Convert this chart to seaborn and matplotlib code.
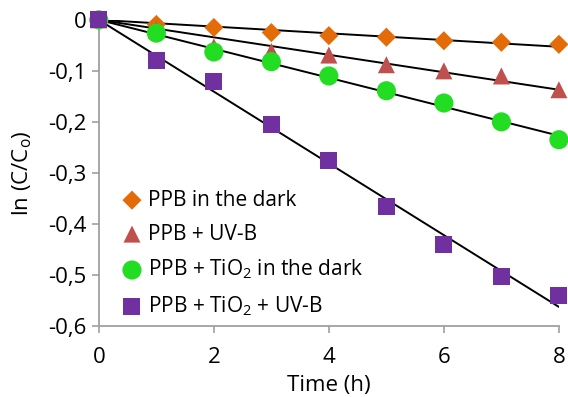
import numpy as np
import pandas as pd
import matplotlib
matplotlib.use("Agg")
import matplotlib.pyplot as plt
import seaborn as sns

hours = [0, 1, 2, 3, 4, 5, 6, 7, 8]
dark = [0, -0.009, -0.015, -0.025, -0.031, -0.034, -0.041, -0.044, -0.048]
uvb = [0, -0.020, -0.053, -0.062, -0.069, -0.088, -0.100, -0.110, -0.137]
tio2_dark = [0, -0.026, -0.063, -0.082, -0.110, -0.139, -0.163, -0.200, -0.235]
tio2_uvb = [0, -0.080, -0.121, -0.205, -0.275, -0.365, -0.441, -0.503, -0.540]
labels = ["PPB in the dark", "PPB + UV-B", "PPB + TiO$_2$ in the dark", "PPB + TiO$_2$ + UV-B"]
colors = ["#E36C09", "#C0504D", "#22DD22", "#7030A0"]
markers = ["D", "^", "o", "s"]
sizes = [95, 150, 190, 150]
yticks = [0, -0.1, -0.2, -0.3, -0.4, -0.5, -0.6]
ytick_labels = ["0", "-0,1", "-0,2", "-0,3", "-0,4", "-0,5", "-0,6"]
xticks = [0, 2, 4, 6, 8]

sns.set_style("white")
plt.rcParams['font.family'] = ['Open Sans', 'DejaVu Sans']
plt.rcParams['mathtext.fontset'] = 'custom'
plt.rcParams['mathtext.rm'] = 'Open Sans'
plt.rcParams['mathtext.it'] = 'Open Sans'
plt.rcParams['text.color'] = 'black'
plt.rcParams['axes.labelcolor'] = 'black'
plt.rcParams['xtick.labelcolor'] = 'black'
plt.rcParams['ytick.labelcolor'] = 'black'

series = [dark, uvb, tio2_dark, tio2_uvb]
df = pd.DataFrame({
    "t": hours * 4,
    "v": sum(series, []),
    "s": sum([[l] * len(hours) for l in labels], []),
})

fig = plt.figure(figsize=(5.68, 3.97), dpi=100)
ax = fig.add_axes([0.174, 0.179, 0.81, 0.771])

x = np.array(hours, dtype=float)
xs = np.array([0, 8.0])
for ys in series:
    y = np.array(ys)
    k = (x * y).sum() / (x * x).sum()
    ax.plot(xs, k * xs, color="black", lw=1.4, zorder=1)

for lab, col, mk, sz in zip(labels, colors, markers, sizes):
    sub = df[df["s"] == lab]
    sns.scatterplot(data=sub, x="t", y="v", color=col, marker=mk, s=sz,
                    edgecolor="none", ax=ax, label=lab, zorder=3, clip_on=False)

ax.set_xlim(0, 8)
ax.set_ylim(-0.6, 0)
ax.set_xticks(xticks)
ax.set_yticks(yticks)
ax.set_yticklabels(ytick_labels)
ax.tick_params(axis="both", labelsize=16, length=5, width=1.2, color="#a0a0a0",
               direction="out", left=True, bottom=True, pad=4, labelcolor="black")
ax.tick_params(axis="x", pad=10)
for side in ["top", "right"]:
    ax.spines[side].set_visible(False)
for side in ["left", "bottom"]:
    ax.spines[side].set_color("#a0a0a0")
    ax.spines[side].set_linewidth(1.3)
ax.set_xlabel("Time (h)", fontsize=16, labelpad=5, color="black")
ax.set_ylabel("ln (C/C$_\\mathregular{o}$)", fontsize=16, labelpad=10, color="black")

leg = ax.legend(loc="lower left", bbox_to_anchor=(0.02, 0.0), frameon=False,
                fontsize=15, handletextpad=0.0, labelspacing=0.62,
                borderaxespad=0, handlelength=1.5)
for t in leg.get_texts():
    t.set_color("black")

fig.savefig("out.png", dpi=100)
